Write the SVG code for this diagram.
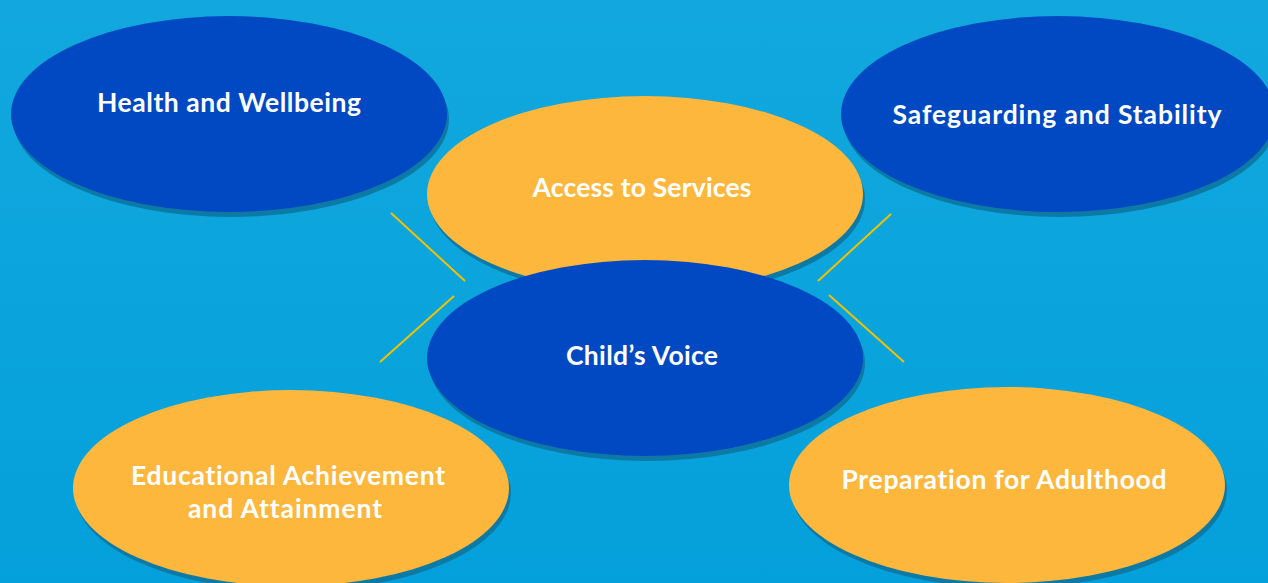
<svg xmlns="http://www.w3.org/2000/svg" width="1268" height="583" viewBox="0 0 1268 583">
<defs>
<linearGradient id="bg" x1="0" y1="0" x2="0" y2="1">
<stop offset="0" stop-color="#12a8de"/>
<stop offset="1" stop-color="#04a0db"/>
</linearGradient>
</defs>
<style>
.sh{fill:#0d7aa6}
.blue{fill:#0049c2}
.orange{fill:#fdb73d}
.lbl{font-family:Lato,"Open Sans","Liberation Sans",sans-serif;font-weight:bold;font-size:26.5px;fill:#ffffff;text-anchor:middle;font-variant-ligatures:none;font-feature-settings:"liga" 0,"clig" 0}
.conn line{stroke:#f2c200;stroke-width:2}
</style>
<rect x="0" y="0" width="1268" height="583" fill="url(#bg)"/>
<g id="health">
<ellipse class="sh" cx="231" cy="119" rx="218" ry="98"/>
<ellipse class="blue" cx="229" cy="114" rx="218" ry="98"/>
<text class="lbl" x="229" y="112" textLength="264" lengthAdjust="spacing">Health and Wellbeing</text>
</g>
<g id="safeguarding">
<ellipse class="sh" cx="1060" cy="119" rx="217" ry="98"/>
<ellipse class="blue" cx="1058" cy="114" rx="217" ry="98"/>
<text class="lbl" x="1057" y="124" textLength="329" lengthAdjust="spacing">Safeguarding and Stability</text>
</g>
<g id="educational">
<ellipse class="sh" cx="293" cy="493" rx="218" ry="98"/>
<ellipse class="orange" cx="291" cy="488" rx="218" ry="98"/>
<text class="lbl" x="288" y="485" textLength="314" lengthAdjust="spacing">Educational Achievement</text>
<text class="lbl" x="285" y="518" textLength="194" lengthAdjust="spacing">and Attainment</text>
</g>
<g id="preparation">
<ellipse class="sh" cx="1009" cy="490" rx="218" ry="98"/>
<ellipse class="orange" cx="1007" cy="485" rx="218" ry="98"/>
<text class="lbl" x="1004" y="489" textLength="325" lengthAdjust="spacing">Preparation for Adulthood</text>
</g>
<g id="access">
<ellipse class="sh" cx="647" cy="199" rx="218" ry="98"/>
<ellipse class="orange" cx="645" cy="194" rx="218" ry="98"/>
<text class="lbl" x="642" y="197" textLength="219" lengthAdjust="spacing">Access to Services</text>
</g>
<g id="connectors" class="conn">
<line x1="391" y1="213" x2="465" y2="281"/>
<line x1="454" y1="296" x2="380" y2="362"/>
<line x1="891" y1="214" x2="818" y2="281"/>
<line x1="829" y1="295" x2="904" y2="362"/>
</g>
<g id="childs-voice">
<ellipse class="sh" cx="647" cy="363" rx="218" ry="98"/>
<ellipse class="blue" cx="645" cy="358" rx="218" ry="98"/>
<text class="lbl" x="642" y="365" textLength="152" lengthAdjust="spacing">Child’s Voice</text>
</g>
</svg>
